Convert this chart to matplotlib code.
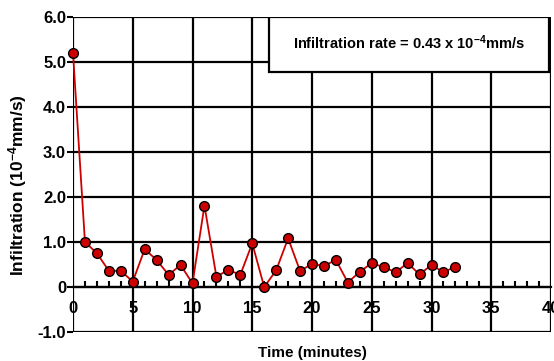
import numpy as np
import matplotlib

matplotlib.use("Agg")
import matplotlib.pyplot as plt
from matplotlib.patches import Rectangle

# data
time_min = list(range(0, 33))
infiltration = [5.2, 1.0, 0.75, 0.36, 0.36, 0.12, 0.84, 0.6, 0.27, 0.49,
                0.08, 1.81, 0.23, 0.38, 0.27, 0.97, 0.0, 0.37, 1.08, 0.36,
                0.51, 0.47, 0.6, 0.1, 0.34, 0.53, 0.44, 0.33, 0.53, 0.28,
                0.49, 0.33, 0.45]
y_ticks = [-1.0, 0.0, 1.0, 2.0, 3.0, 4.0, 5.0, 6.0]
y_labels = ["-1.0", "0", "1.0", "2.0", "3.0", "4.0", "5.0", "6.0"]
x_ticks = [0, 5, 10, 15, 20, 25, 30, 35, 40]
rate_text = r"Infiltration rate = 0.43 x 10$^{-4}$mm/s"

plt.rcParams["font.family"] = ["Liberation Sans", "DejaVu Sans"]
plt.rcParams["font.weight"] = "bold"
plt.rcParams["mathtext.fontset"] = "custom"
plt.rcParams["mathtext.rm"] = "Liberation Sans:bold"
plt.rcParams["mathtext.default"] = "rm"

fig = plt.figure(figsize=(5.54, 3.61), dpi=100)
ax = fig.add_axes([73 / 554, 29 / 361, 478 / 554, 315 / 361])

ax.set_xlim(0, 40)
ax.set_ylim(-1.0, 6.0)

# grid
for yv in y_ticks:
    ax.axhline(yv, color="black", linewidth=1.6, zorder=1)
for xv in x_ticks:
    ax.axvline(xv, color="black", linewidth=1.6, zorder=1)

for s in ["top", "right", "left"]:
    ax.spines[s].set_visible(False)
ax.spines["bottom"].set_position(("data", 0))
ax.spines["bottom"].set_linewidth(1.6)

ax.set_xticks(x_ticks)
ax.set_xticks(np.arange(0, 41, 1), minor=True)
ax.tick_params(axis="x", which="major", length=0, pad=10, labelsize=12)
ax.tick_params(axis="x", which="minor", direction="in", length=4, width=1.5)
ax.set_yticks(y_ticks)
ax.set_yticklabels(y_labels)
ax.tick_params(axis="y", length=4, width=1.5, labelsize=12, pad=1)

ax.plot(time_min, infiltration, color="#cc0000", linewidth=1.3, marker="o",
        markersize=7, markerfacecolor="#cc0000", markeredgecolor="black",
        markeredgewidth=1.0, zorder=3, clip_on=False)

ax.add_patch(Rectangle((16.4, 4.78), 23.4, 1.22, facecolor="white",
                       edgecolor="black", linewidth=1.6, zorder=4))
ax.text(28.1, 5.42, rate_text, ha="center", va="center", fontsize=10.5,
        fontweight="bold", zorder=5)

fig.text(18 / 554, 176 / 361, r"Infiltration (10$^{-4}$mm/s)", rotation=90,
         ha="center", va="center", fontsize=12.5, fontweight="bold")
fig.text(312 / 554, 8 / 361, "Time (minutes)", ha="center", va="center",
         fontsize=11, fontweight="bold")

fig.savefig("out.png", dpi=100)
plt.close()
